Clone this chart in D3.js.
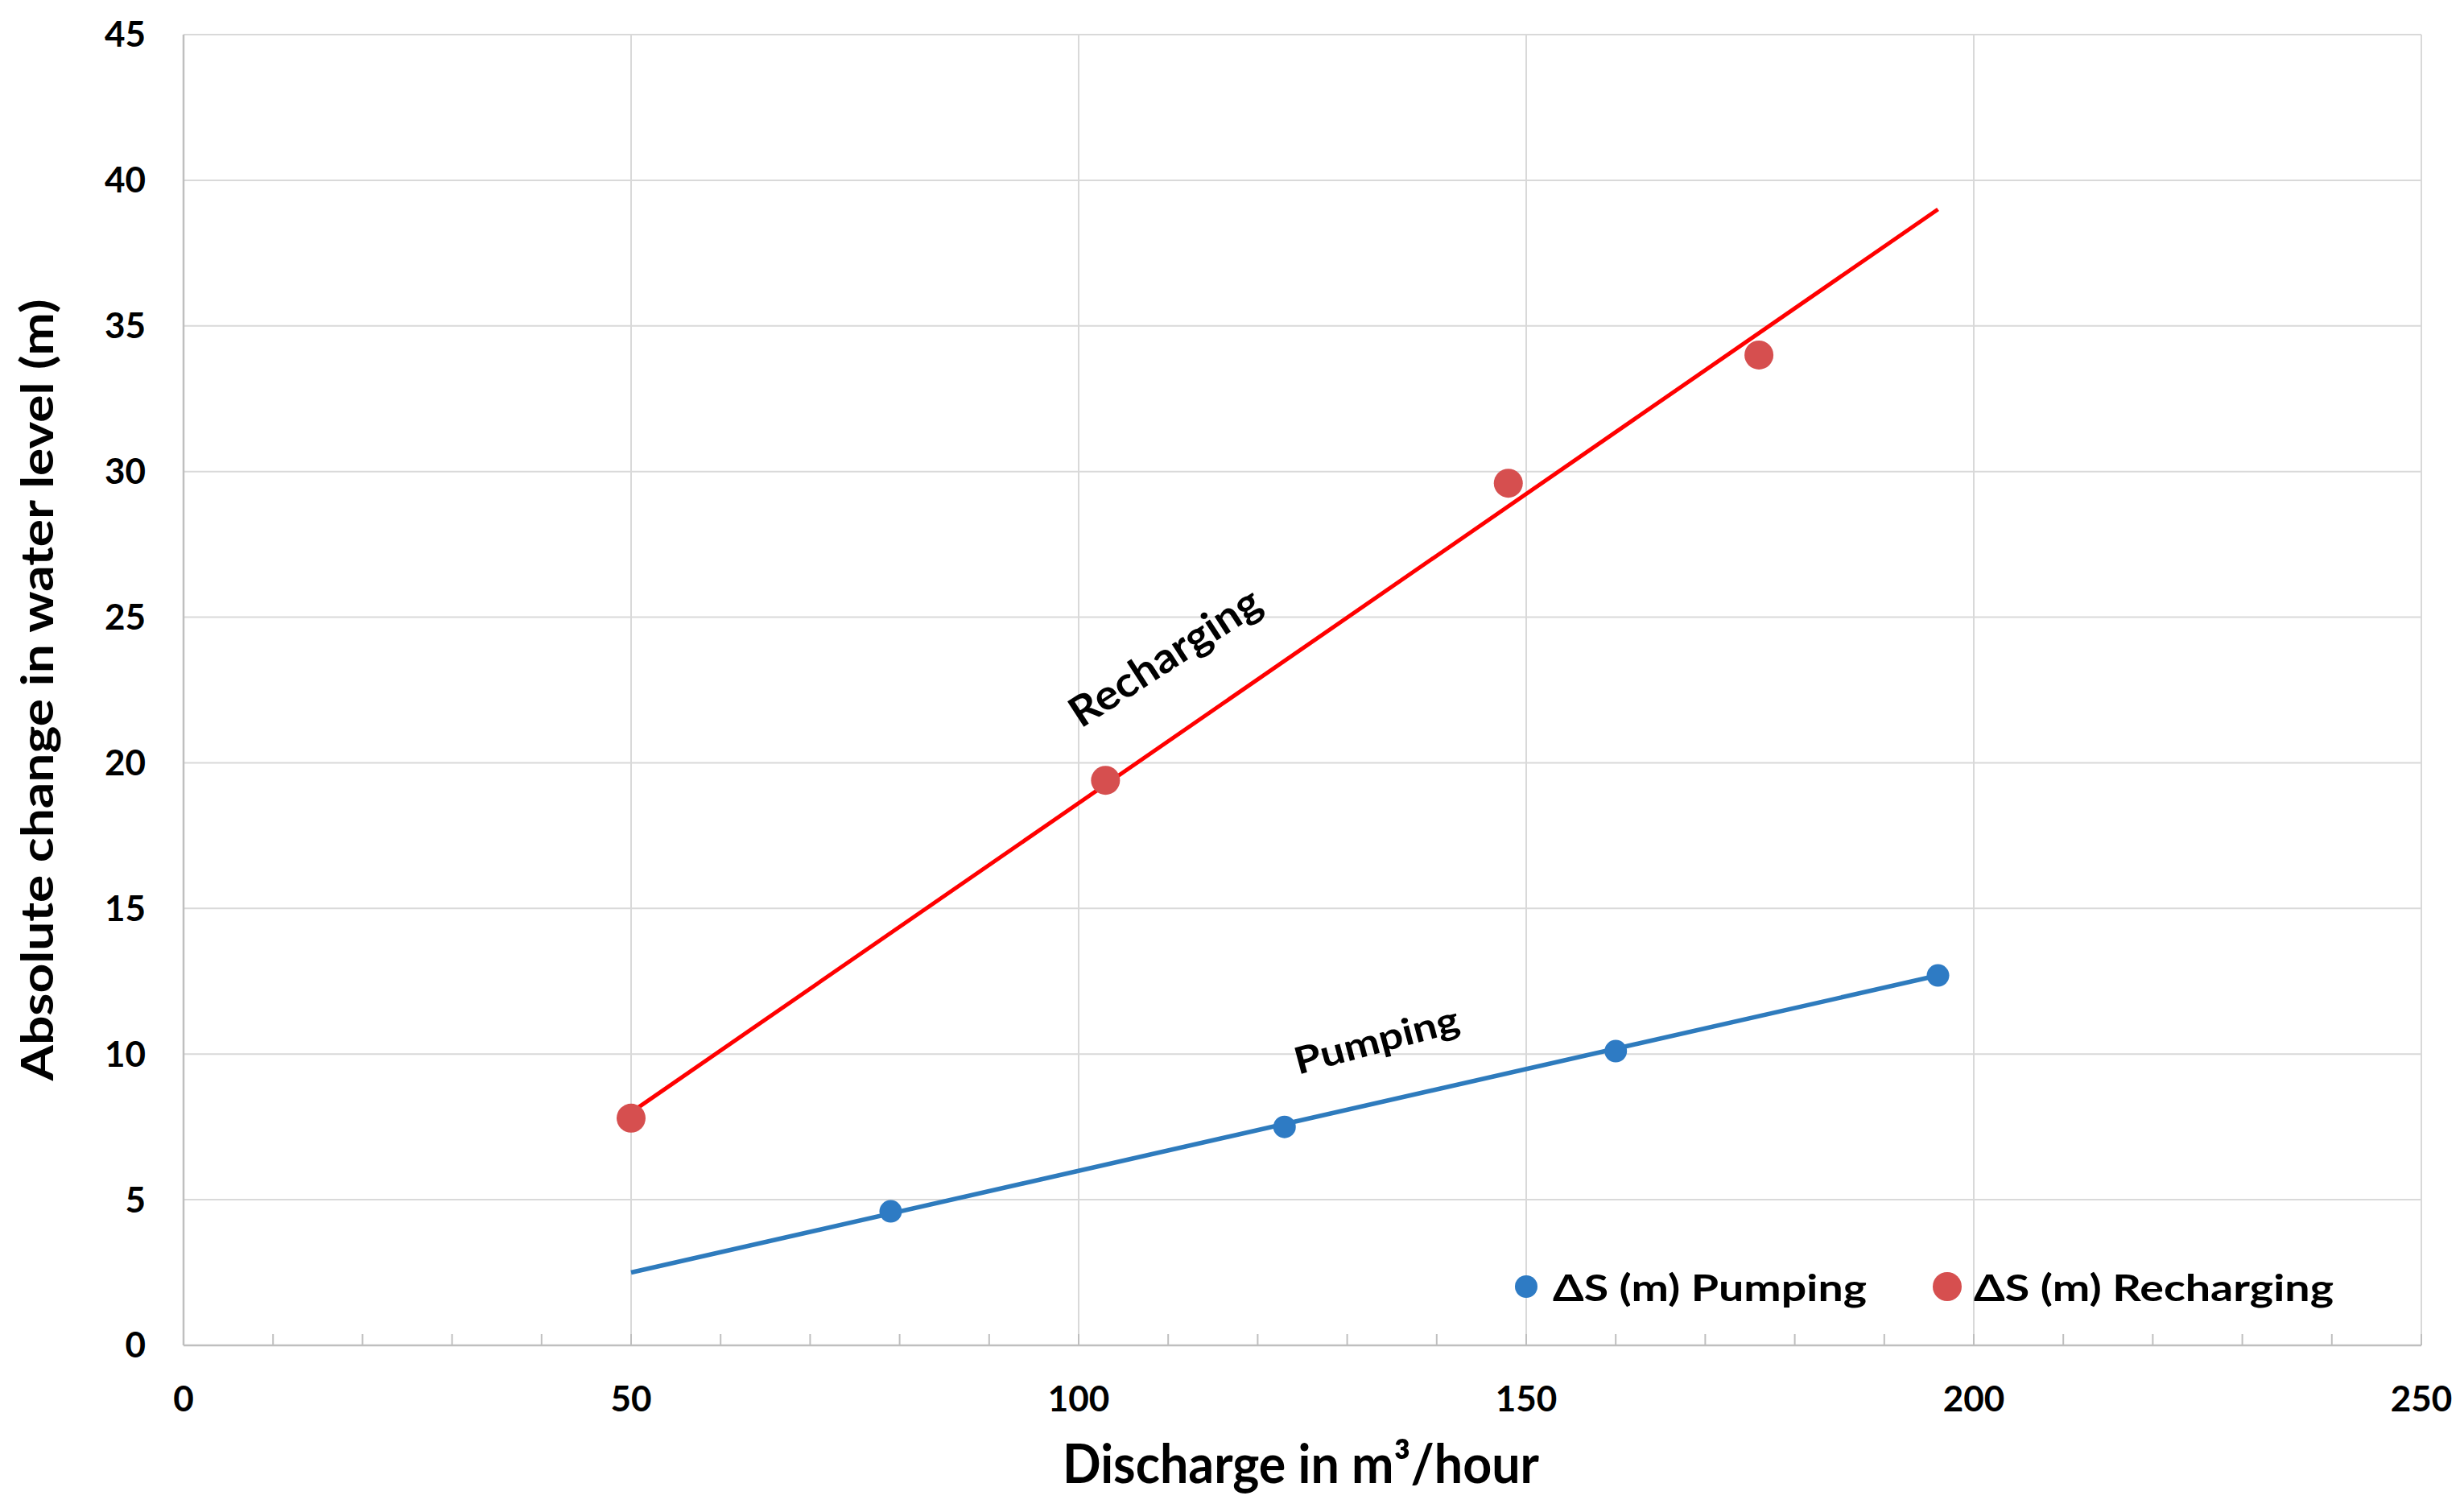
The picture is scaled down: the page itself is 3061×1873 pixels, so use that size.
<!DOCTYPE html>
<html><head><meta charset="utf-8">
<script src="https://cdn.jsdelivr.net/npm/d3@7"></script>
<style>html,body{margin:0;padding:0;background:#fff;} svg{display:block;}</style>
</head><body>
<script>
// ---- data ----
const pumpingX = [79, 123, 160, 196];
const pumpingY = [4.6, 7.5, 10.1, 12.7];
const rechargingX = [50, 103, 148, 176];
const rechargingY = [7.8, 19.4, 29.6, 34.0];
const pumpingTrendX = [50, 196];
const pumpingTrendY = [2.5, 12.7];
const rechargingTrendX = [50, 196];
const rechargingTrendY = [8.0, 39.0];
const xTicks = [0, 50, 100, 150, 200, 250];
const yTicks = [0, 5, 10, 15, 20, 25, 30, 35, 40, 45];
const xMinorTicks = d3.range(0, 251, 10);
const legendLabels = ["ΔS (m) Pumping", "ΔS (m) Recharging"];
const xTitle = "Discharge in m³/hour";
const yTitle = "Absolute change in water level (m)";
const lineLabels = ["Recharging", "Pumping"];

const W = 3061, H = 1873;
const FONT = "Lato, 'Open Sans', 'Liberation Sans', sans-serif";
const svg = d3.select("body").append("svg").attr("width", W).attr("height", H);
svg.append("rect").attr("width", W).attr("height", H).attr("fill", "#fff");

const x = d3.scaleLinear().domain([0, 250]).range([228, 3008]);
const y = d3.scaleLinear().domain([0, 45]).range([1671, 43]);

// gridlines
const grid = svg.append("g");
grid.selectAll(".hg").data(yTicks.filter(d => d > 0)).join("line")
  .attr("x1", x(0)).attr("x2", x(250)).attr("y1", d => y(d)).attr("y2", d => y(d))
  .attr("stroke", "#d9d9d9").attr("stroke-width", 2);
grid.selectAll(".vg").data(xTicks.filter(d => d > 0)).join("line")
  .attr("x1", d => x(d)).attr("x2", d => x(d)).attr("y1", y(0)).attr("y2", y(45))
  .attr("stroke", "#d9d9d9").attr("stroke-width", 2);

// axes lines
svg.append("line").attr("x1", x(0)).attr("x2", x(0)).attr("y1", y(0)).attr("y2", y(45))
  .attr("stroke", "#bfbfbf").attr("stroke-width", 2.5);
svg.append("line").attr("x1", x(0)).attr("x2", x(250)).attr("y1", y(0)).attr("y2", y(0))
  .attr("stroke", "#bfbfbf").attr("stroke-width", 2.5);
svg.selectAll(".mt").data(xMinorTicks).join("line")
  .attr("x1", d => x(d)).attr("x2", d => x(d)).attr("y1", y(0)).attr("y2", y(0) - 14)
  .attr("stroke", "#bfbfbf").attr("stroke-width", 2);

// tick labels
svg.selectAll(".yl").data(yTicks).join("text")
  .attr("x", 181).attr("y", d => y(d)).attr("dy", "0.35em")
  .attr("text-anchor", "end").attr("font-family", FONT).attr("font-weight", 700)
  .attr("font-size", 44).attr("fill", "#000").text(d => d);
svg.selectAll(".xl").data(xTicks).join("text")
  .attr("x", d => x(d)).attr("y", 1753)
  .attr("text-anchor", "middle").attr("font-family", FONT).attr("font-weight", 700)
  .attr("font-size", 44).attr("fill", "#000").text(d => d);

// axis titles
svg.append("text").attr("x", 1616).attr("y", 1842).attr("text-anchor", "middle")
  .attr("font-family", FONT).attr("font-weight", 700).attr("font-size", 66)
  .attr("textLength", 592).attr("lengthAdjust", "spacingAndGlyphs").text(xTitle);
svg.append("text").attr("transform", "translate(66,857) rotate(-90)").attr("text-anchor", "middle")
  .attr("font-family", FONT).attr("font-weight", 700).attr("font-size", 56)
  .attr("textLength", 971).attr("lengthAdjust", "spacingAndGlyphs").text(yTitle);

// trend lines
const line = d3.line().x(d => x(d[0])).y(d => y(d[1]));
svg.append("path").datum(d3.zip(rechargingTrendX, rechargingTrendY)).attr("d", line)
  .attr("fill", "none").attr("stroke", "#ff0000").attr("stroke-width", 5);
svg.append("path").datum(d3.zip(pumpingTrendX, pumpingTrendY)).attr("d", line)
  .attr("fill", "none").attr("stroke", "#2e7bbd").attr("stroke-width", 5.5);

// points
svg.selectAll(".rp").data(d3.zip(rechargingX, rechargingY)).join("circle")
  .attr("cx", d => x(d[0])).attr("cy", d => y(d[1])).attr("r", 18).attr("fill", "#d64f4f");
svg.selectAll(".pp").data(d3.zip(pumpingX, pumpingY)).join("circle")
  .attr("cx", d => x(d[0])).attr("cy", d => y(d[1])).attr("r", 14).attr("fill", "#2e7bc4");

// line labels
svg.append("text").attr("transform", "translate(1447,816) rotate(-33)").attr("text-anchor", "middle")
  .attr("dy", "0.35em").attr("font-family", FONT).attr("font-weight", 700).attr("font-size", 52)
  .attr("textLength", 272).attr("lengthAdjust", "spacingAndGlyphs").text(lineLabels[0]);
svg.append("text").attr("transform", "translate(1710,1292) rotate(-15)").attr("text-anchor", "middle")
  .attr("dy", "0.35em").attr("font-family", FONT).attr("font-weight", 700).attr("font-size", 46)
  .attr("textLength", 210).attr("lengthAdjust", "spacingAndGlyphs").text(lineLabels[1]);

// legend
const legend = svg.append("g");
const legendX = [1896, 2419], legendW = [390, 447], legendR = [14, 18], legendC = ["#2e7bc4", "#d64f4f"];
legendLabels.forEach((t, i) => {
  legend.append("circle").attr("cx", legendX[i]).attr("cy", 1598).attr("r", legendR[i]).attr("fill", legendC[i]);
  legend.append("text").attr("x", legendX[i] + 33).attr("y", 1616)
    .attr("font-family", FONT).attr("font-weight", 700).attr("font-size", 46)
    .attr("textLength", legendW[i]).attr("lengthAdjust", "spacingAndGlyphs").text(t);
});
</script>
</body></html>
